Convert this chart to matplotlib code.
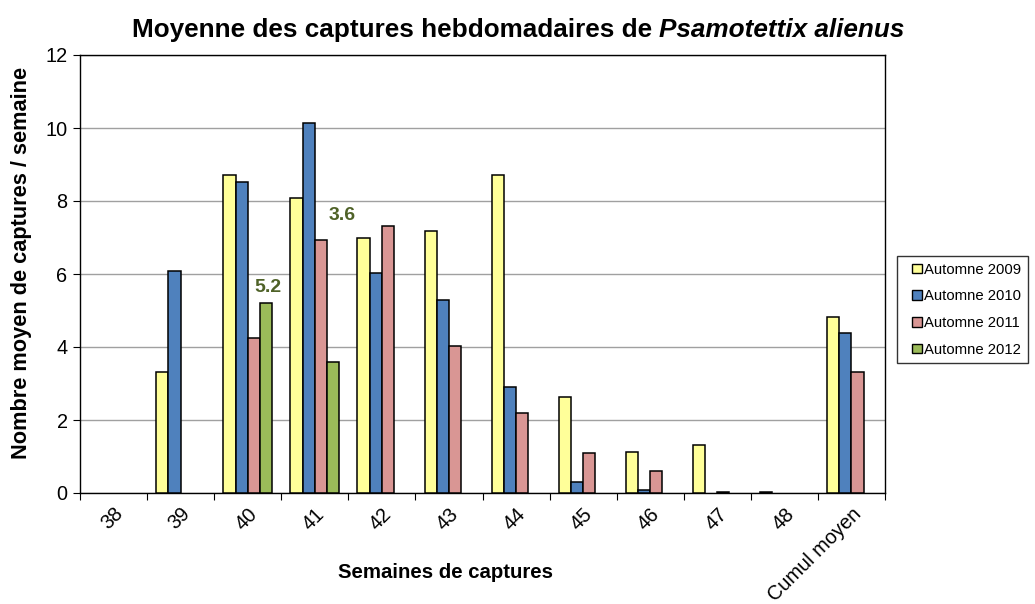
import numpy as np
import matplotlib
matplotlib.use("Agg")
import matplotlib.pyplot as plt
from matplotlib.patches import Patch, Rectangle
from matplotlib.legend_handler import HandlerPatch

plt.rcParams['font.family'] = ['Liberation Sans', 'DejaVu Sans']

categories = ['38', '39', '40', '41', '42', '43', '44', '45', '46', '47', '48', 'Cumul moyen']
series_names = ['Automne 2009', 'Automne 2010', 'Automne 2011', 'Automne 2012']
y2009 = [None, 3.31, 8.71, 8.09, 6.98, 7.18, 8.70, 2.64, 1.12, 1.32, 0.03, 4.81]
y2010 = [None, 6.09, 8.51, 10.14, 6.04, 5.28, 2.91, 0.31, 0.09, None, None, 4.37]
y2011 = [None, None, 4.24, 6.93, 7.32, 4.03, 2.18, 1.10, 0.59, 0.04, None, 3.31]
y2012 = [None, None, 5.2, 3.6, None, None, None, None, None, None, None, None]
labels_2012 = {'40': '5.2', '41': '3.6'}
colors = ['#FFFF99', '#4F81BD', '#D99694', '#9BBB59']
title_main = 'Moyenne des captures hebdomadaires de '
title_species = 'Psamotettix alienus'
ylabel = 'Nombre moyen de captures / semaine'
xlabel = 'Semaines de captures'

series = [y2009, y2010, y2011, y2012]

W, H = 1035, 604
fig = plt.figure(figsize=(W/100, H/100), dpi=100)
fig.canvas.draw()
R = fig.canvas.get_renderer()


def width_at10(s, **kw):
    t = fig.text(0, 0, s, fontsize=10, **kw)
    w = t.get_window_extent(R).width
    t.remove()
    return w


def fit(s, target, **kw):
    return 10 * target / width_at10(s, **kw)


fs_title = 10 * 774 / (width_at10(title_main, fontweight='bold') +
                       width_at10(title_species, fontweight='bold', fontstyle='italic'))
fs_ylab = fit(ylabel, 392, fontweight='bold')
fs_xlab = fit(xlabel, 215, fontweight='bold')
fs_leg = fit('Automne 2009', 97)
fs_xt = fit('Cumul moyen', 124)
fs_yt = fit('10', 22)
fs_dl = fit('5.2', 27, fontweight='bold')

ax = fig.add_axes([80/W, 1-493/H, (885-80)/W, (493-55)/H])

x = np.arange(len(categories))
w = 1/5.5
for i, (vals, col) in enumerate(zip(series, colors)):
    v = np.array([np.nan if a is None else a for a in vals], dtype=float)
    ax.bar(x + (i-1.5)*w, v, width=w, color=col, edgecolor='black', linewidth=1.1, zorder=3)

# data labels for 2012
offsets = {'40': (1.5, 15.5), '41': (9, 146)}
for cat, txt in labels_2012.items():
    k = categories.index(cat)
    ax.annotate(txt, xy=(x[k] + 1.5*w, y2012[k]), xytext=offsets[cat],
                textcoords='offset pixels', ha='center', va='center',
                fontsize=fs_dl, fontweight='bold', color='#4F6228', zorder=4)

ax.set_xlim(-0.5, len(categories)-0.5)
ax.set_ylim(0, 12)
ax.set_yticks(np.arange(0, 13, 2))
ax.yaxis.grid(True, color='#A0A0A0', linewidth=1.0, zorder=0)
ax.set_axisbelow(True)

ax.set_xticks(np.arange(-0.5, len(categories)), minor=False)
ax.set_xticklabels([])
ax.set_xticks(x, minor=True)
ax.set_xticklabels(categories, minor=True, rotation=45, ha='right', va='top',
                   rotation_mode='anchor', fontsize=fs_xt)
ax.tick_params(axis='x', which='minor', length=0, pad=8)
ax.tick_params(axis='x', which='major', length=5, direction='out', color='black')
ax.tick_params(axis='y', length=5, direction='out', labelsize=fs_yt, pad=4)
for s in ax.spines.values():
    s.set_color('black')
    s.set_linewidth(1.0)

fig.text(22/W, 1-263/H, ylabel, rotation=90, fontsize=fs_ylab, fontweight='bold',
         ha='center', va='center')
fig.text(445/W, 1-572/H, xlabel, fontsize=fs_xlab, fontweight='bold',
         ha='center', va='center')


class SquareHandler(HandlerPatch):
    def create_artists(self, legend, orig_handle, xdescent, ydescent, width, height,
                       fontsize, trans):
        s = 0.65 * fontsize
        p = Rectangle((-xdescent + width - s, -ydescent + (height - s) / 2), s, s,
                      facecolor=orig_handle.get_facecolor(), edgecolor='black',
                      linewidth=1.0, transform=trans)
        return [p]


handles = [Patch(facecolor=c, edgecolor='black') for c in colors]
leg = fig.legend(handles, series_names, loc='upper left', bbox_to_anchor=(897/W, 1-256/H),
                 fontsize=fs_leg, frameon=True, fancybox=False, edgecolor='black',
                 handlelength=1.2, handleheight=0.7, handletextpad=0.15,
                 labelspacing=0.85, borderpad=0.45, borderaxespad=0,
                 handler_map={Patch: SquareHandler()})
leg.get_frame().set_linewidth(1.0)

# Title with italic species name
t1 = fig.text(0, 1-30/H, title_main, fontsize=fs_title, fontweight='bold',
              ha='left', va='center')
t2 = fig.text(0, 1-30/H, title_species, fontsize=fs_title, fontweight='bold',
              fontstyle='italic', ha='left', va='center')
fig.canvas.draw()
w1 = t1.get_window_extent(R).width
w2 = t2.get_window_extent(R).width
start = 518 - (w1 + w2) / 2
t1.set_x(start / W)
t2.set_x((start + w1) / W)

fig.savefig('out.png', dpi=100)
